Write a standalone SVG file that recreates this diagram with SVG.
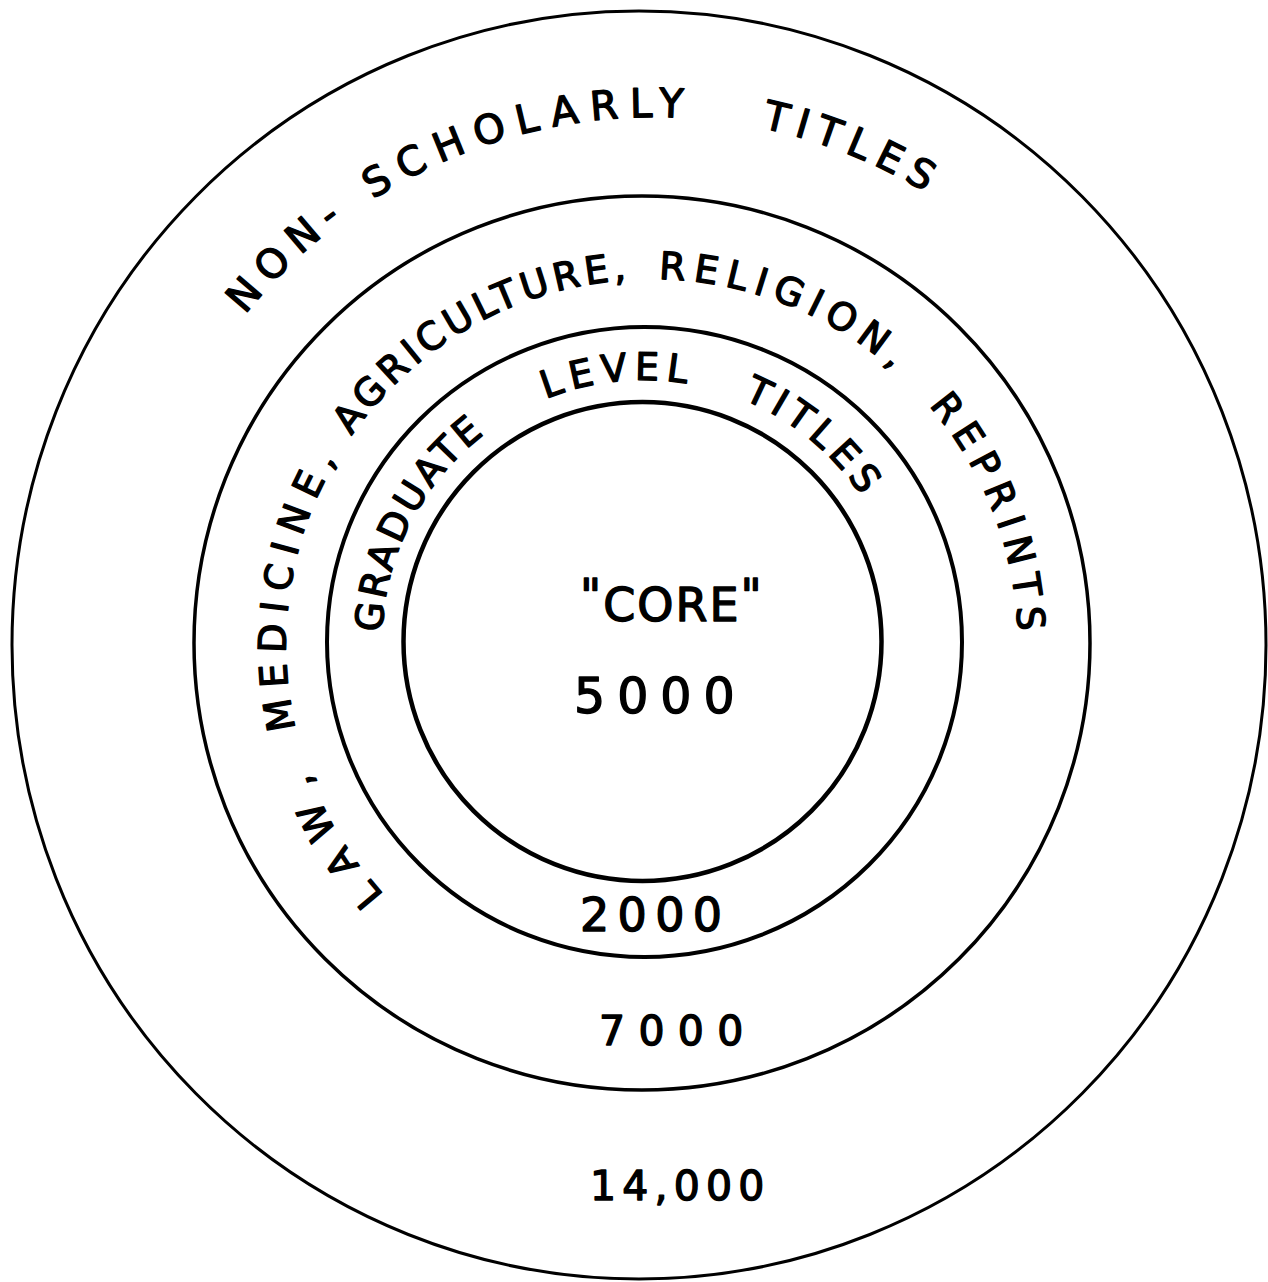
<svg xmlns="http://www.w3.org/2000/svg" xmlns:xlink="http://www.w3.org/1999/xlink" width="1268" height="1282" viewBox="0 0 1268 1282">
<style>
.ring{fill:none;stroke:#000}
.lbl{font-family:"DejaVu Sans","Liberation Sans",sans-serif;fill:#000;stroke:#000;stroke-width:1.4;stroke-linejoin:round;stroke-linecap:round}
</style>
<defs>
<path id="p1" d="M655,1163 A523,523 0 1,1 655,117 A523,523 0 1,1 655,1163"/>
<path id="p2" d="M652,1011 A366,366 0 1,1 652,279 A366,366 0 1,1 652,1011"/>
<path id="p3" d="M644,904 A262,262 0 1,1 644,380 A262,262 0 1,1 644,904"/>
</defs>
<rect width="1268" height="1282" fill="#fff"/>
<g id="connectors"/>
<g id="non-scholarly">
<ellipse class="ring" cx="639" cy="645" rx="627" ry="634" stroke-width="3"/>
<text class="lbl" font-size="40" letter-spacing="10"><textPath xlink:href="#p1" href="#p1" startOffset="1172">NON-</textPath></text>
<text class="lbl" font-size="40" letter-spacing="11.4"><textPath xlink:href="#p1" href="#p1" startOffset="1345">SCHOLARLY</textPath></text>
<text class="lbl" font-size="40" letter-spacing="8.6"><textPath xlink:href="#p1" href="#p1" startOffset="1750">TITLES</textPath></text>
<text class="lbl" x="590" y="1200" font-size="41" letter-spacing="6.2">14,000</text>
</g>
<g id="law-medicine">
<ellipse class="ring" cx="642" cy="643" rx="448" ry="447" stroke-width="3.5"/>
<text class="lbl" font-size="38" letter-spacing="15.9"><textPath xlink:href="#p2" href="#p2" startOffset="300">LAW,</textPath></text>
<text class="lbl" font-size="38" letter-spacing="9.9"><textPath xlink:href="#p2" href="#p2" startOffset="490">MEDICINE,</textPath></text>
<text class="lbl" font-size="38" letter-spacing="4.6"><textPath xlink:href="#p2" href="#p2" startOffset="797">AGRICULTURE,</textPath></text>
<text class="lbl" font-size="38" letter-spacing="7.8"><textPath xlink:href="#p2" href="#p2" startOffset="1156">RELIGION,</textPath></text>
<text class="lbl" font-size="38" letter-spacing="8.6"><textPath xlink:href="#p2" href="#p2" startOffset="1463">REPRINTS</textPath></text>
<text class="lbl" x="599" y="1045" font-size="41" letter-spacing="13.3">7000</text>
</g>
<g id="graduate">
<ellipse class="ring" cx="644.5" cy="642" rx="317.5" ry="315" stroke-width="4"/>
<text class="lbl" font-size="38" letter-spacing="3.2"><textPath xlink:href="#p3" href="#p3" startOffset="421">GRADUATE</textPath></text>
<text class="lbl" font-size="38" letter-spacing="6.8"><textPath xlink:href="#p3" href="#p3" startOffset="722">LEVEL</textPath></text>
<text class="lbl" font-size="38" letter-spacing="5.6"><textPath xlink:href="#p3" href="#p3" startOffset="924">TITLES</textPath></text>
<text class="lbl" x="580" y="931" font-size="46" letter-spacing="8.3">2000</text>
</g>
<g id="core">
<ellipse class="ring" cx="642.5" cy="641.5" rx="239" ry="239.5" stroke-width="4.5"/>
<text class="lbl" x="580" y="621" font-size="46" letter-spacing="2"><tspan dy="-9">"</tspan><tspan dy="9">CORE</tspan><tspan dy="-9">"</tspan></text>
<text class="lbl" x="574" y="713" font-size="49" letter-spacing="12">5000</text>
</g>
</svg>
